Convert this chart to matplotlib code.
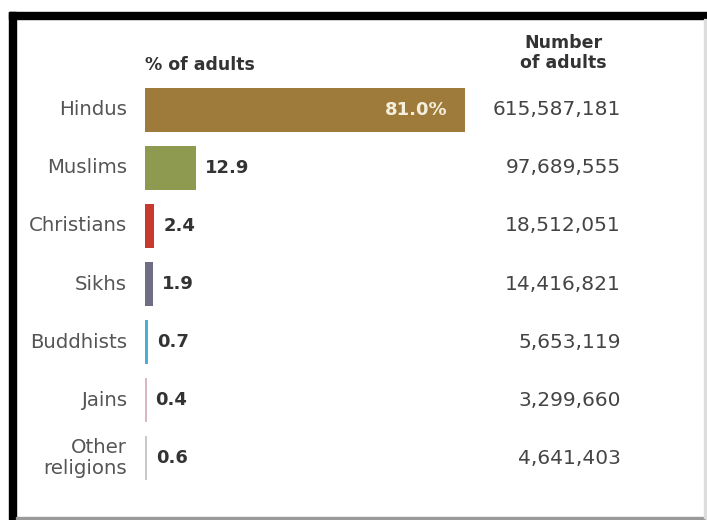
import matplotlib
matplotlib.use("Agg")
import matplotlib.pyplot as plt
import matplotlib.transforms as mtransforms
from matplotlib.patches import Rectangle

# data
religions = ["Hindus", "Muslims", "Christians", "Sikhs", "Buddhists", "Jains", "Other\nreligions"]
pct = [81.0, 12.9, 2.4, 1.9, 0.7, 0.4, 0.6]
pct_labels = ["81.0%", "12.9", "2.4", "1.9", "0.7", "0.4", "0.6"]
adults = ["615,587,181", "97,689,555", "18,512,051", "14,416,821",
          "5,653,119", "3,299,660", "4,641,403"]
colors = ["#9e7b3a", "#8e9a4f", "#c8392f", "#6e6d82", "#4aaed8", "#d9b8c0", "#c9c9cc"]

W, H = 707, 520
fig = plt.figure(figsize=(W / 100, H / 100), dpi=100)
fig.patch.set_facecolor("white")

# axes placed so that bars start at x=145px, 3.95 px per percent, rows 58px apart
px_per_unit = 3.95
left_px, top_px, bot_px = 145, 20, 520
ax = fig.add_axes([left_px / W, 0, (W - left_px) / W, (bot_px - top_px) / H])
ax.set_xlim(0, (W - left_px) / px_per_unit)
y0 = (top_px - 110) / 58
y1 = (bot_px - 110) / 58
ax.set_ylim(y1, y0)
ax.axis("off")

rows = list(range(len(religions)))
ax.barh(rows, pct, height=0.76, color=colors, left=0)

fx = mtransforms.blended_transform_factory(fig.transFigure, ax.transData)

for i, (name, v, lab, n) in enumerate(zip(religions, pct, pct_labels, adults)):
    ax.text(127 / W, i, name, transform=fx, ha="right", va="center",
            fontsize=14.2, color="#555555", linespacing=1.1)
    if i == 0:
        ax.text(v - 17 / px_per_unit, i, lab, ha="right", va="center",
                fontsize=13, fontweight="bold", color="#f4eedc")
    else:
        ax.text(v + 9 / px_per_unit, i, lab, ha="left", va="center",
                fontsize=13, fontweight="bold", color="#333333")
    ax.text(621 / W, i, n, transform=fx, ha="right", va="center",
            fontsize=14.5, color="#444444")

# headers
fig.text(145 / W, 1 - 65 / H, "% of adults", ha="left", va="center",
         fontsize=12.5, fontweight="bold", color="#333333")
fig.text(563 / W, 1 - 53 / H, "Number\nof adults", ha="center", va="center",
         fontsize=12.5, fontweight="bold", color="#333333", linespacing=1.15)

# frame around the picture
fig.patches.append(Rectangle((9 / W, 1 - 19 / H), (W - 9) / W, 7 / H,
                             transform=fig.transFigure, color="black", zorder=5))
fig.patches.append(Rectangle((9 / W, 0), 7 / W, (H - 12) / H,
                             transform=fig.transFigure, color="black", zorder=5))
fig.patches.append(Rectangle((16 / W, 1 - 519 / H), (W - 18) / W, 2 / H,
                             transform=fig.transFigure, color="#9a9a9a", zorder=5))
fig.patches.append(Rectangle((704 / W, 1 - 518 / H), 1.5 / W, 499 / H,
                             transform=fig.transFigure, color="#dddddd", zorder=5))

fig.savefig("out.png", dpi=100, facecolor="white")
